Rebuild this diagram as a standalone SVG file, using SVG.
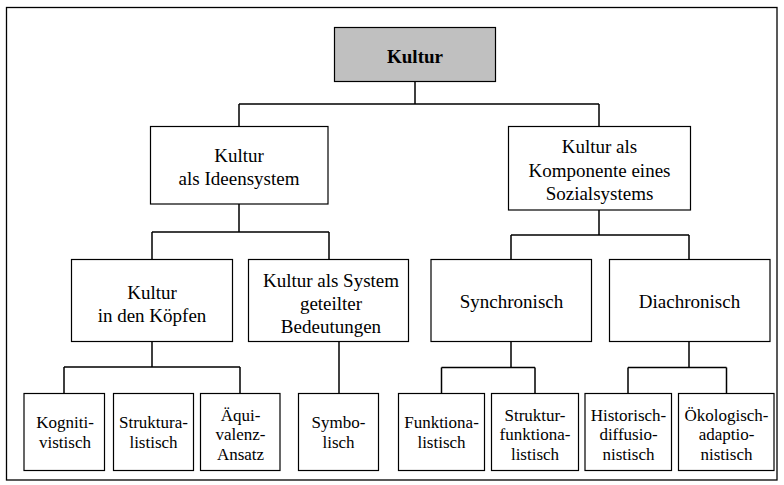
<svg xmlns="http://www.w3.org/2000/svg" width="784" height="485" viewBox="0 0 784 485">
<style>
.box{fill:#fff;stroke:#000;stroke-width:1.2}
.root{fill:#c0c0c0;stroke:#000;stroke-width:1.2}
.frame{fill:#fff;stroke:#000;stroke-width:1.3}
.con{fill:none;stroke:#000;stroke-width:1.5}
text{font-family:'Liberation Serif','Times New Roman',serif;fill:#000;text-anchor:middle}
.t1{font-size:19px;font-weight:bold}
.t2{font-size:19px}
.t4{font-size:17px}
</style>
<rect class="frame" x="6.5" y="7.5" width="770.5" height="472.5"/>
<g id="connectors">
<path class="con" d="M415,82 V104 M239,104 H599 M239,104 V126.5 M599,104 V126.5"/>
<path class="con" d="M239,204 V232 M152,232 H329 M152,232 V259.5 M329,232 V259.5"/>
<path class="con" d="M599,210 V235 M511,235 H689 M511,235 V259.5 M689,235 V259.5"/>
<path class="con" d="M152,341.5 V367 M64,367 H240 M64,367 V393.5 M240,367 V393.5"/>
<path class="con" d="M339,341.5 V393.5"/>
<path class="con" d="M511,341.5 V367.5 M441.5,367.5 H535 M441.5,367.5 V393.5 M535,367.5 V393.5"/>
<path class="con" d="M689,341.5 V367.5 M628,367.5 H726.5 M628,367.5 V393.5 M726.5,367.5 V393.5"/>
</g>
<g id="kultur">
<rect class="root" x="334.5" y="27.5" width="161" height="54"/>
<text class="t1" x="415" y="62.5">Kultur</text>
</g>
<g id="ideensystem">
<rect class="box" x="150.5" y="126.5" width="177.5" height="77.5"/>
<text class="t2" x="239" y="161.5">Kultur</text>
<text class="t2" x="239" y="185">als Ideensystem</text>
</g>
<g id="sozialsystem">
<rect class="box" x="508.5" y="126.5" width="182" height="83.5"/>
<text class="t2" x="599.5" y="153">Kultur als</text>
<text class="t2" x="599.5" y="176.5">Komponente eines</text>
<text class="t2" x="599.5" y="200">Sozialsystems</text>
</g>
<g id="koepfe">
<rect class="box" x="71.5" y="259.5" width="161" height="82"/>
<text class="t2" x="152" y="299">Kultur</text>
<text class="t2" x="152" y="321.5">in den Köpfen</text>
</g>
<g id="bedeutungen">
<rect class="box" x="248.5" y="259.5" width="160" height="82"/>
<text class="t2" x="331" y="286.5">Kultur als System</text>
<text class="t2" x="331" y="309.5">geteilter</text>
<text class="t2" x="331" y="332.5">Bedeutungen</text>
</g>
<g id="synchronisch">
<rect class="box" x="431" y="259.5" width="160.5" height="82"/>
<text class="t2" x="511.5" y="308">Synchronisch</text>
</g>
<g id="diachronisch">
<rect class="box" x="609.5" y="259.5" width="160.5" height="82"/>
<text class="t2" x="689.5" y="308">Diachronisch</text>
</g>
<g id="kognitivistisch">
<rect class="box" x="24" y="393.5" width="80.5" height="77"/>
<text class="t4" x="65" y="428">Kogniti-</text>
<text class="t4" x="65" y="447.5">vistisch</text>
</g>
<g id="strukturalistisch">
<rect class="box" x="113.5" y="393.5" width="80" height="77"/>
<text class="t4" x="153.5" y="428">Struktura-</text>
<text class="t4" x="153.5" y="447.5">listisch</text>
</g>
<g id="aequivalenz">
<rect class="box" x="200.5" y="393.5" width="79.5" height="77"/>
<text class="t4" x="240.5" y="421">Äqui-</text>
<text class="t4" x="240.5" y="440">valenz-</text>
<text class="t4" x="240.5" y="459.5">Ansatz</text>
</g>
<g id="symbolisch">
<rect class="box" x="298.5" y="393.5" width="80" height="77"/>
<text class="t4" x="338.5" y="428">Symbo-</text>
<text class="t4" x="338.5" y="447.5">lisch</text>
</g>
<g id="funktionalistisch">
<rect class="box" x="398.5" y="393.5" width="86" height="77"/>
<text class="t4" x="441.5" y="428">Funktiona-</text>
<text class="t4" x="441.5" y="447.5">listisch</text>
</g>
<g id="strukturfunktionalistisch">
<rect class="box" x="491.5" y="393.5" width="87" height="77"/>
<text class="t4" x="535" y="421">Struktur-</text>
<text class="t4" x="535" y="440">funktiona-</text>
<text class="t4" x="535" y="459.5">listisch</text>
</g>
<g id="historisch">
<rect class="box" x="585" y="393.5" width="86.5" height="77"/>
<text class="t4" x="628.5" y="421">Historisch-</text>
<text class="t4" x="628.5" y="440">diffusio-</text>
<text class="t4" x="628.5" y="459.5">nistisch</text>
</g>
<g id="oekologisch">
<rect class="box" x="678.5" y="393.5" width="95.5" height="77"/>
<text class="t4" x="726.5" y="421">Ökologisch-</text>
<text class="t4" x="726.5" y="440">adaptio-</text>
<text class="t4" x="726.5" y="459.5">nistisch</text>
</g>
</svg>
